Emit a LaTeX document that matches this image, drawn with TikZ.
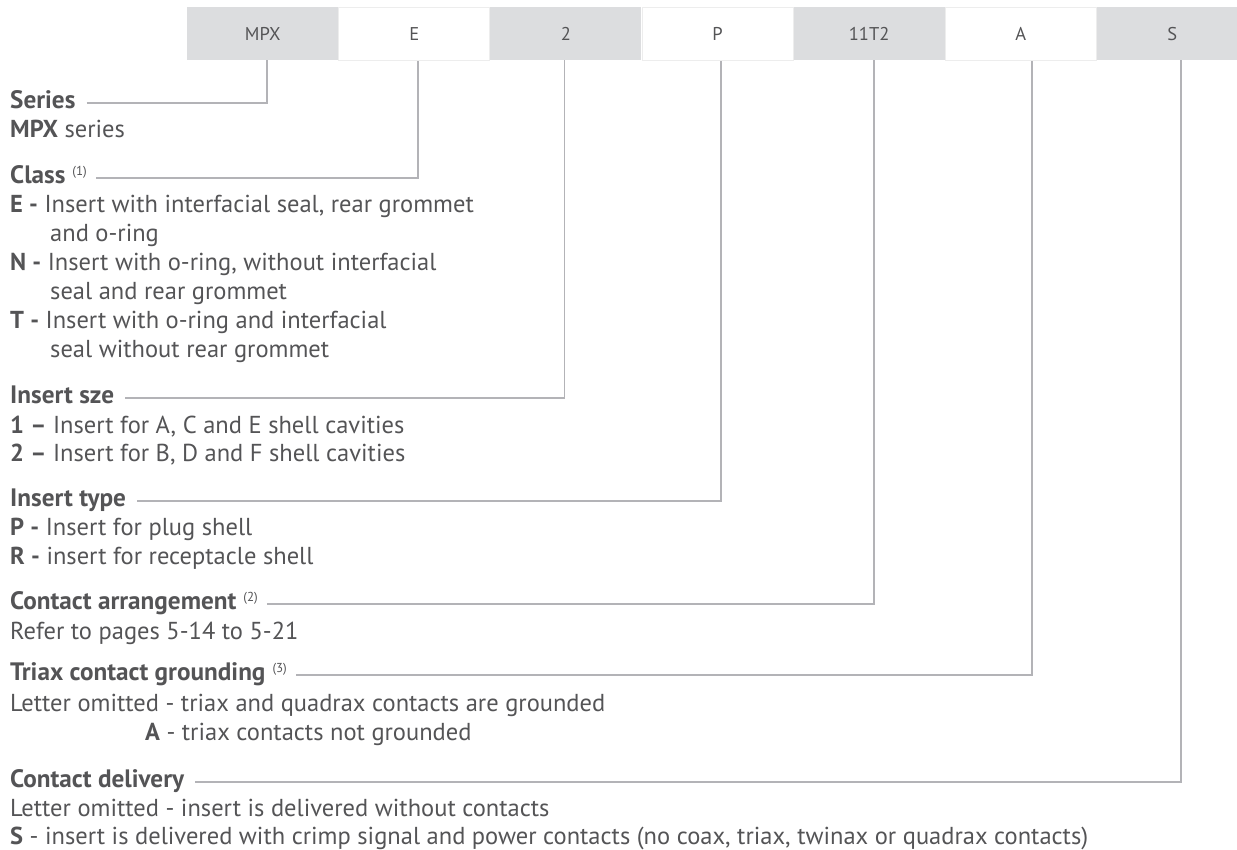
\documentclass[tikz,border=0pt]{standalone}
\usepackage{fontspec}
\setmainfont{PT Sans}
\usepackage{tikz}
\usetikzlibrary{positioning}
\definecolor{inkgray}{HTML}{545456}
\definecolor{rulegray}{HTML}{B3B3B7}
\definecolor{cellgray}{HTML}{DCDDDF}
\newcommand{\fnref}[1]{\hspace{7pt}\raisebox{8pt}{\fontsize{13}{13}\selectfont\mdseries(#1)}}

\begin{document}
\begin{tikzpicture}[
  x=1pt,y=-1pt,
  node distance=0pt,
  cell/.style={minimum width=151pt,minimum height=53pt,inner sep=0pt,text=inkgray,font=\fontsize{18.5}{18.5}\selectfont},
  cellg/.style={cell,fill=cellgray},
  cellw/.style={cell,fill=white,draw=black!7,line width=.8pt},
  hd/.style={anchor=base west,inner sep=0pt,text=inkgray,font=\fontsize{25.2}{29}\selectfont\bfseries},
  txt/.style={anchor=base west,inner sep=0pt,text=inkgray,font=\fontsize{24.5}{29}\selectfont},
  conn/.style={draw=rulegray,line width=1.8pt}
]
\useasboundingbox (0,0) rectangle (1237,849);

% code strip
\node[cellg,anchor=north west] (cMPX) at (187,7) {MPX};
\node[cellw,right=of cMPX] (cE) {E};
\node[cellg,right=of cE] (cSize) {2};
\node[cellw,right=of cSize] (cType) {P};
\node[cellg,right=of cType] (cArr) {11T2};
\node[cellw,right=of cArr] (cGnd) {A};
\node[cellg,right=of cGnd] (cDel) {S};

% headings
\node[hd] (hSeries) at (10,108) {Series};
\node[hd] (hClass) at (10,183) {Class\fnref{1}};
\node[hd] (hSize) at (10,403) {Insert sze};
\node[hd] (hType) at (10,506) {Insert type};
\node[hd] (hArr) at (10,609) {Contact arrangement\fnref{2}};
\node[hd] (hGnd) at (10,680) {Triax contact grounding\fnref{3}};
\node[hd] (hDel) at (10,787) {Contact delivery};

% descriptions
\node[txt] (tSeries) at (10,137) {\textbf{MPX} series};
\node[txt] (tE1) at (10,212) {\textbf{E -} Insert with interfacial seal, rear grommet};
\node[txt] (tE2) at (50,241) {and o-ring};
\node[txt] (tN1) at (10,270) {\textbf{N -} Insert with o-ring, without interfacial};
\node[txt] (tN2) at (50,299) {seal and rear grommet};
\node[txt] (tT1) at (10,328) {\textbf{T -} Insert with o-ring and interfacial};
\node[txt] (tT2) at (50,357) {seal without rear grommet};
\node[txt] (tS1) at (10,433) {\textbf{1 –} Insert for A, C and E shell cavities};
\node[txt] (tS2) at (10,461) {\textbf{2 –} Insert for B, D and F shell cavities};
\node[txt] (tP) at (10,535) {\textbf{P -} Insert for plug shell};
\node[txt] (tR) at (10,564) {\textbf{R -} insert for receptacle shell};
\node[txt] (tArr) at (10,639) {Refer to pages 5-14 to 5-21};
\node[txt] (tG1) at (10,711) {Letter omitted - triax and quadrax contacts are grounded};
\node[txt] (tG2) at (145,740) {\textbf{A} - triax contacts not grounded};
\node[txt] (tD1) at (10,816) {Letter omitted - insert is delivered without contacts};
\node[txt] (tD2) at (10,844) {\textbf{S} - insert is delivered with crimp signal and power contacts (no coax, triax, twinax or quadrax contacts)};

% leaders
\draw[conn] ([xshift=11pt,yshift=5pt]hSeries.base east) -| ([xshift=4.5pt]cMPX.south);
\draw[conn] ([xshift=9pt,yshift=5pt]hClass.base east) -| ([xshift=3.5pt]cE.south);
\draw[conn] ([xshift=11pt,yshift=5pt]hSize.base east) -| ([xshift=-1.5pt]cSize.south);
\draw[conn] ([xshift=11pt,yshift=5pt]hType.base east) -| ([xshift=3.5pt]cType.south);
\draw[conn] ([xshift=9pt,yshift=5pt]hArr.base east) -| ([xshift=4.5pt]cArr.south);
\draw[conn] ([xshift=9pt,yshift=5pt]hGnd.base east) -| ([xshift=11.5pt]cGnd.south);
\draw[conn] ([xshift=11pt,yshift=5pt]hDel.base east) -| ([xshift=8.5pt]cDel.south);
\end{tikzpicture}
\end{document}
